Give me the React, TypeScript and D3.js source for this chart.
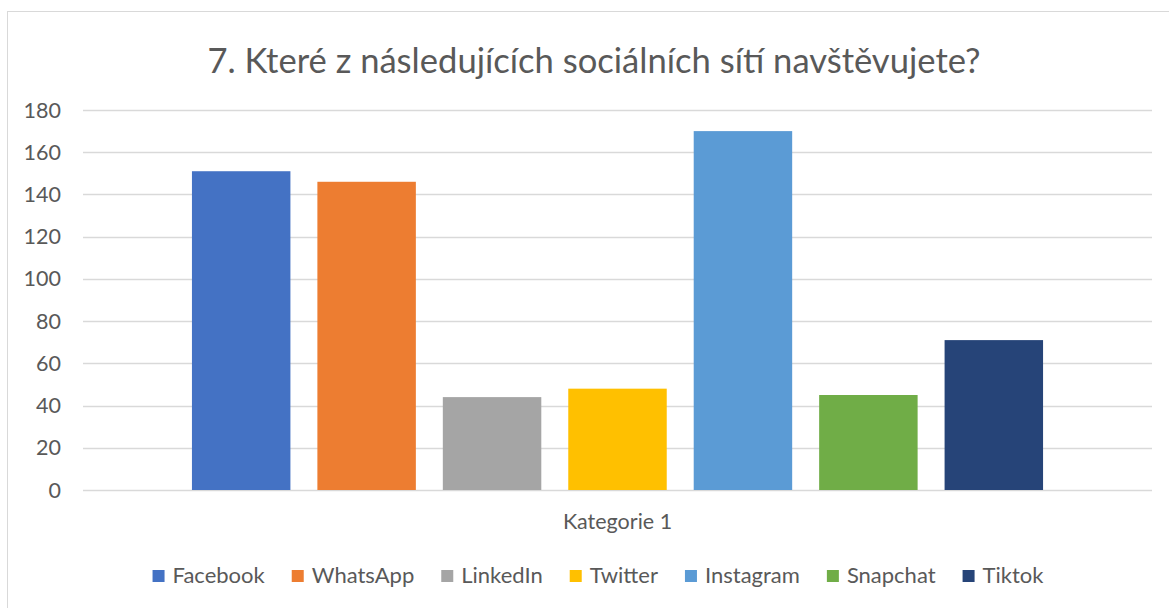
import React, { useEffect, useRef } from 'react';
import * as d3 from 'd3';

const title = '7. Které z následujících sociálních sítí navštěvujete?';
const category = 'Kategorie 1';
const seriesNames = ['Facebook', 'WhatsApp', 'LinkedIn', 'Twitter', 'Instagram', 'Snapchat', 'Tiktok'];
const seriesValues = [151, 146, 44, 48, 170, 45, 71];
const seriesColors = ['#4472c4', '#ed7d31', '#a5a5a5', '#ffc000', '#5b9bd5', '#70ad47', '#264478'];
const yTicks = [0, 20, 40, 60, 80, 100, 120, 140, 160, 180];

const W = 1169;
const H = 608;
const FONT = 'Lato, "Open Sans", sans-serif';

function BarChart() {
  const ref = useRef<SVGSVGElement>(null);

  useEffect(() => {
    const svg = d3.select(ref.current);
    svg.selectAll('*').remove();

    const margin = { left: 83, right: 17, top: 110, bottom: 118 };
    const plotW = W - margin.left - margin.right;
    const plotH = H - margin.top - margin.bottom;

    // chart area border (runs off the right/bottom edge like the screenshot)
    svg.append('rect')
      .attr('x', 7.5).attr('y', 11.5)
      .attr('width', W + 20).attr('height', H + 20)
      .attr('fill', '#fff').attr('stroke', '#d9d9d9');

    svg.append('text')
      .attr('x', 594).attr('y', 73)
      .attr('text-anchor', 'middle')
      .style('font-family', FONT).style('font-size', '34.6px')
      .attr('fill', '#595959')
      .text(title);

    const g = svg.append('g').attr('transform', `translate(${margin.left},${margin.top})`);

    const y = d3.scaleLinear().domain([0, 180]).range([plotH, 0]);
    const x0 = d3.scaleBand().domain([category]).range([0, plotW]).paddingOuter(0.128);
    const x1 = d3.scaleBand().domain(seriesNames)
      .range([x0(category)!, x0(category)! + x0.bandwidth()])
      .paddingInner(0.215);

    g.selectAll('.grid')
      .data(yTicks)
      .enter().append('line')
      .attr('x1', 0).attr('x2', plotW)
      .attr('y1', d => Math.round(y(d)) + 0.5).attr('y2', d => Math.round(y(d)) + 0.5)
      .attr('stroke', '#d9d9d9').attr('stroke-width', 1.5);

    g.selectAll('.tick-label')
      .data(yTicks)
      .enter().append('text')
      .attr('x', -22).attr('y', d => y(d))
      .attr('dy', '0.35em')
      .attr('text-anchor', 'end')
      .style('font-family', FONT).style('font-size', '21.5px')
      .attr('fill', '#595959')
      .text(d => d);

    g.selectAll('.bar')
      .data(seriesValues)
      .enter().append('rect')
      .attr('x', (d, i) => x1(seriesNames[i])!)
      .attr('y', d => y(d))
      .attr('width', x1.bandwidth())
      .attr('height', d => plotH - y(d))
      .attr('fill', (d, i) => seriesColors[i]);

    g.append('text')
      .attr('x', x0(category)! + x0.bandwidth() / 2)
      .attr('y', plotH + 39)
      .attr('text-anchor', 'middle')
      .style('font-family', FONT).style('font-size', '21.5px')
      .attr('fill', '#595959')
      .text(category);

    // legend, centred on the chart area
    const legend = svg.append('g');
    const items = legend.selectAll('.item')
      .data(seriesNames)
      .enter().append('g');
    items.append('rect')
      .attr('width', 12).attr('height', 12)
      .attr('y', -13)
      .attr('fill', (d, i) => seriesColors[i]);
    items.append('text')
      .attr('x', 20)
      .style('font-family', FONT).style('font-size', '22px')
      .attr('fill', '#595959')
      .text(d => d);

    let cx = 0;
    items.each(function () {
      const t = d3.select(this).select('text').node() as SVGTextElement;
      d3.select(this).attr('transform', `translate(${cx},0)`);
      cx += 20 + t.getComputedTextLength() + 27;
    });
    const total = cx - 27;
    legend.attr('transform', `translate(${598 - total / 2},${583})`);
  }, []);

  return (
    <svg ref={ref} width={W} height={H}
      style={{ position: 'absolute', left: 0, top: 0, display: 'block', background: '#fff' }} />
  );
}

export default function App() {
  return <BarChart />;
}
